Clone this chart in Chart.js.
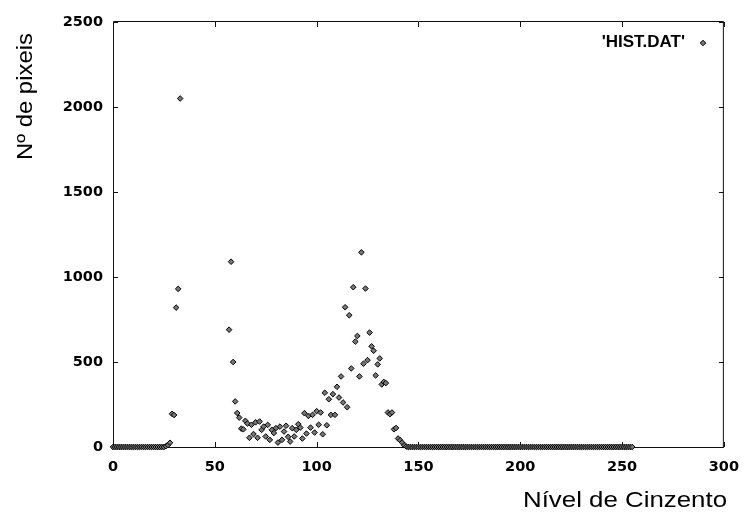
<!DOCTYPE html>
<html><head><meta charset="utf-8">
<style>html,body{margin:0;padding:0;background:#fff}#wrap{position:relative;width:751px;height:517px}</style>
<script src="https://cdn.jsdelivr.net/npm/chart.js@4.4.1/dist/chart.umd.min.js"></script>
</head><body><div id="wrap"><canvas id="c" width="751" height="517"></canvas></div>
<script>
const grayLevels = [
  0,1,2,3,4,5,6,7,8,9,10,11,12,13,14,15,16,17,18,19,20,21,22,23,24,25,26,27,28,29,30,31,32,33,
  57,58,59,60,61,62,63,64,65,66,67,68,69,70,71,72,73,74,75,76,77,78,79,80,81,82,83,84,85,86,87,88,89,90,
  91,92,93,94,95,96,97,98,99,100,101,102,103,104,105,106,107,108,109,110,111,112,113,114,115,116,117,118,119,120,
  121,122,123,124,125,126,127,128,129,130,131,132,133,134,135,136,137,138,139,140,141,142,143,144,145,146,147,148,149,150,
  151,152,153,154,155,156,157,158,159,160,161,162,163,164,165,166,167,168,169,170,171,172,173,174,175,176,177,178,179,180,
  181,182,183,184,185,186,187,188,189,190,191,192,193,194,195,196,197,198,199,200,201,202,203,204,205,206,207,208,209,210,
  211,212,213,214,215,216,217,218,219,220,221,222,223,224,225,226,227,228,229,230,231,232,233,234,235,236,237,238,239,240,
  241,242,243,244,245,246,247,248,249,250,251,252,253,254,255
];
const pixelCounts = [
  0,0,0,0,0,0,0,0,0,0,0,0,0,0,0,0,0,0,0,0,0,0,0,0,0,0,5,12,25,195,188,820,930,2050,
  690,1090,500,268,200,173,108,104,154,138,54,131,76,145,54,150,101,120,62,130,42,101,82,111,26,120,42,91,125,60,32,111,62,101,
  134,114,50,199,79,183,114,189,85,211,131,203,75,319,128,281,189,311,189,354,291,415,262,822,234,775,462,940,620,653,
  415,1145,490,932,511,673,592,566,421,486,521,368,383,376,203,193,203,104,112,50,40,26,10,3,0,0,0,0,0,0,
  0,0,0,0,0,0,0,0,0,0,0,0,0,0,0,0,0,0,0,0,0,0,0,0,0,0,0,0,0,0,
  0,0,0,0,0,0,0,0,0,0,0,0,0,0,0,0,0,0,0,0,0,0,0,0,0,0,0,0,0,0,
  0,0,0,0,0,0,0,0,0,0,0,0,0,0,0,0,0,0,0,0,0,0,0,0,0,0,0,0,0,0,
  0,0,0,0,0,0,0,0,0,0,0,0,0,0,0
];
const xTicks = [0,50,100,150,200,250,300];
const yTicks = [0,500,1000,1500,2000,2500];
const seriesLabel = "'HIST.DAT'";
const xTitle = 'Nível de Cinzento';
const yTitle = 'Nº de pixeis';

const points = grayLevels.map((g, i) => ({x: g, y: pixelCounts[i]}));

const framePlugin = {
  id: 'frame',
  beforeDatasetsDraw(chart) {
    const {ctx, chartArea: a, scales} = chart;
    ctx.save();
    ctx.strokeStyle = '#111';
    ctx.lineWidth = 1;
    ctx.beginPath();
    ctx.rect(a.left + 0.5, a.top - 0.5, a.right - a.left - 1, a.bottom - a.top + 1);
    ctx.stroke();
    ctx.beginPath();
    const tl = 5;
    xTicks.forEach(v => {
      const p = Math.round(scales.x.getPixelForValue(v)) + 0.5;
      ctx.moveTo(p, a.bottom); ctx.lineTo(p, a.bottom - tl);
      ctx.moveTo(p, a.top); ctx.lineTo(p, a.top + tl);
    });
    yTicks.forEach(v => {
      const p = Math.round(scales.y.getPixelForValue(v)) + 0.5;
      ctx.moveTo(a.left, p); ctx.lineTo(a.left + tl, p);
      ctx.moveTo(a.right, p); ctx.lineTo(a.right - tl, p);
    });
    ctx.stroke();
    ctx.restore();
  },
  afterDraw(chart) {
    const {ctx} = chart;
    ctx.save();
    ctx.fillStyle = '#000';
    ctx.font = '22px "Liberation Sans", Arial, sans-serif';
    ctx.textAlign = 'center';
    ctx.textBaseline = 'alphabetic';
    ctx.save();
    ctx.translate(625, 507);
    ctx.scale(1.175, 1);
    ctx.fillText(xTitle, 0, 0);
    ctx.restore();
    ctx.save();
    ctx.translate(31.7, 96.5);
    ctx.rotate(-Math.PI / 2);
    ctx.scale(1.085, 1);
    ctx.fillText(yTitle, 0, 0);
    ctx.restore();
    ctx.font = 'bold 17px "Liberation Sans", Arial, sans-serif';
    ctx.textAlign = 'right';
    ctx.fillText(seriesLabel, 685, 46.7);
    ctx.strokeStyle = '#000';
    ctx.fillStyle = '#777';
    ctx.lineWidth = 1;
    Chart.helpers.drawPoint(ctx, {pointStyle: 'rectRot', radius: 2.8, rotation: 0, borderWidth: 1}, 703, 43);
    ctx.restore();
  }
};

new Chart(document.getElementById('c'), {
  type: 'scatter',
  data: {
    datasets: [{
      label: seriesLabel,
      data: points,
      pointStyle: 'rectRot',
      pointRadius: 2.8,
      pointHoverRadius: 2.8,
      pointBorderWidth: 1,
      pointBorderColor: '#000',
      pointBackgroundColor: '#777',
      clip: false
    }]
  },
  options: {
    responsive: false,
    animation: false,
    devicePixelRatio: 1,
    layout: {padding: {left: 0, top: 22, right: 17, bottom: 0}},
    plugins: {legend: {display: false}, tooltip: {enabled: false}},
    scales: {
      x: {
        type: 'linear', min: 0, max: 300,
        afterBuildTicks: s => { s.ticks = xTicks.map(v => ({value: v})); },
        ticks: {color: '#000', padding: 12, maxRotation: 0, callback: v => String(v), font: {family: 'DejaVu Sans', weight: 'bold', size: 14.5}},
        grid: {display: false, drawTicks: false},
        border: {display: false},
        afterFit: s => { s.height = 70; }
      },
      y: {
        type: 'linear', min: 0, max: 2500,
        afterBuildTicks: s => { s.ticks = yTicks.map(v => ({value: v})); },
        ticks: {color: '#000', padding: 10, callback: v => String(v), font: {family: 'DejaVu Sans', weight: 'bold', size: 14.5}},
        grid: {display: false, drawTicks: false},
        border: {display: false},
        afterFit: s => { s.width = 113; }
      }
    }
  },
  plugins: [framePlugin]
});
</script>
</body></html>
